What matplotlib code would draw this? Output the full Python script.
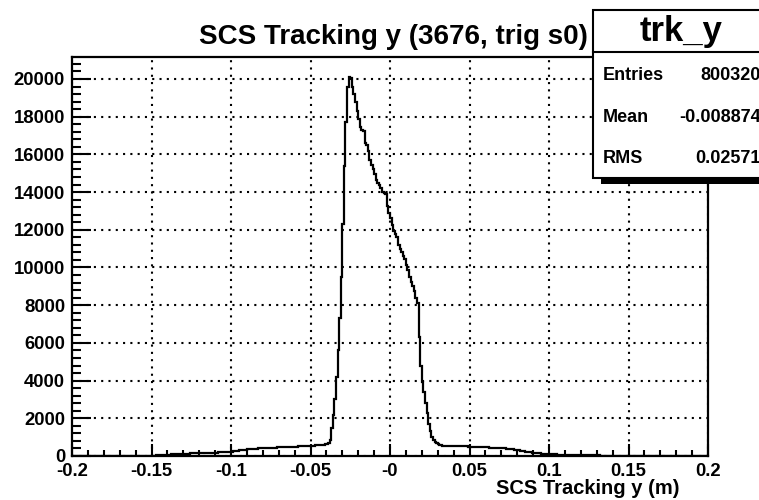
import numpy as np
import matplotlib
matplotlib.use("Agg")
import matplotlib.pyplot as plt
from matplotlib.ticker import MultipleLocator, FixedLocator, FixedFormatter
from matplotlib.patches import Rectangle
from matplotlib.lines import Line2D

# ---- data -------------------------------------------------------------
x_min, x_max, n_bins = -0.2, 0.2, 400

# bin contents, 0.001 m per bin, starting at -0.200
counts_left = [
    0, 0, 0, 0, 0, 0, 0, 0, 0, 0,
    0, 0, 0, 0, 0, 0, 0, 0, 0, 0,
    0, 0, 0, 0, 1, 0, 0, 0, 0, 1,
    0, 1, 0, 1, 1, 2, 1, 2, 3, 2,
    3, 4, 5, 4, 6, 8, 9, 11, 12, 15,
    18, 22, 25, 30, 34, 40, 46, 52, 58, 64,
    70, 76, 82, 88, 94, 100, 106, 110, 114, 118,
    122, 126, 128, 132, 135, 138, 142, 144, 146, 150,
    152, 155, 158, 160, 163, 166, 168, 171, 174, 176,
    180, 183, 186, 190, 194, 198, 203, 208, 214, 222,
    232, 244, 256, 268, 280, 292, 304, 316, 326, 336,
    346, 354, 362, 370, 378, 386, 394, 400, 406, 412,
    418, 422, 426, 430, 434, 438, 442, 446, 450, 454,
    458, 462, 466, 470, 474, 478, 482, 486, 490, 494,
    498, 502, 506, 510, 514, 518, 522, 526, 530, 536,
    540, 546, 552, 558, 566, 574, 584, 594, 606, 620,
]
counts_core = [
    640, 690, 850, 1500, 2200, 3000, 4200, 5600, 7300, 9500,
    12300, 15400, 17700, 19600, 20100, 20050, 19600, 19200, 18800, 18300,
    17900, 17450, 17300, 17250, 16600, 16500, 16200, 15700, 15450, 15200,
    14950, 14650, 14500, 14380, 14200, 14000, 13950, 13920, 13250, 12900,
    12600, 12250, 11950, 11750, 11600, 11200, 11000, 10800, 10600, 10450,
    10150, 9850, 9500, 9250, 9000, 8750, 8400, 8100, 6300, 4800,
    3900, 3400, 2800, 2300, 1700, 1300, 1000, 850, 760, 700,
]
counts_right = [
    650, 600, 570, 550, 540, 535, 530, 528, 525, 522,
    520, 518, 516, 514, 512, 510, 508, 506, 504, 500,
    496, 492, 488, 484, 480, 476, 472, 468, 464, 460,
    456, 452, 448, 444, 440, 436, 432, 428, 424, 420,
    414, 406, 398, 390, 380, 370, 358, 346, 334, 320,
    306, 292, 278, 264, 250, 236, 222, 208, 196, 184,
    172, 162, 152, 144, 136, 128, 122, 116, 110, 104,
    98, 94, 90, 86, 82, 78, 75, 72, 69, 66,
    63, 60, 58, 56, 54, 52, 50, 48, 46, 44,
    42, 40, 38, 37, 36, 34, 33, 32, 30, 29,
    28, 27, 26, 25, 24, 23, 22, 21, 20, 19,
    18, 17, 16, 15, 14, 13, 12, 12, 11, 10,
    10, 9, 8, 8, 7, 7, 6, 6, 5, 5,
    4, 4, 4, 3, 3, 3, 2, 2, 2, 2,
    2, 1, 1, 1, 1, 1, 1, 0, 1, 0,
    0, 1, 0, 0, 0, 1, 0, 0, 0, 0,
    0, 0, 0, 0, 0, 0, 0, 0, 0, 0,
]

x_ticks = [-0.2, -0.15, -0.1, -0.05, 0.0, 0.05, 0.1, 0.15, 0.2]
x_tick_labels = ["-0.2", "-0.15", "-0.1", "-0.05", "-0", "0.05", "0.1", "0.15", "0.2"]
y_ticks = [0, 2000, 4000, 6000, 8000, 10000, 12000, 14000, 16000, 18000, 20000]
y_tick_labels = [str(v) for v in y_ticks]

title = "SCS Tracking y (3676, trig s0)"
x_label = "SCS Tracking y (m)"
stats_name = "trk_y"
stats_rows = [("Entries", "800320"), ("Mean", "-0.008874"), ("RMS", "0.02571")]

# ---- figure -----------------------------------------------------------
W, H = 759, 500
plt.rcParams["font.family"] = ["Liberation Sans", "DejaVu Sans"]
plt.rcParams["font.weight"] = "bold"

fig = plt.figure(figsize=(W / 100, H / 100), dpi=100)
fig.patch.set_facecolor("white")


def fx(px):
    return px / W


def fy(py):
    return 1 - py / H


ax_l, ax_r, ax_t, ax_b = 72, 708, 57, 456
ax = fig.add_axes([fx(ax_l), fy(ax_b), (ax_r - ax_l) / W, (ax_b - ax_t) / H])

counts = np.array(counts_left + counts_core + counts_right, dtype=float)
edges = np.linspace(x_min, x_max, n_bins + 1)
ax.stairs(counts, edges, color="black", lw=1.6, zorder=3)

ax.set_xlim(x_min, x_max)
ax.set_ylim(0, counts.max() * 1.053)

ax.xaxis.set_major_locator(FixedLocator(x_ticks))
ax.xaxis.set_major_formatter(FixedFormatter(x_tick_labels))
ax.xaxis.set_minor_locator(MultipleLocator(0.01))
ax.yaxis.set_major_locator(FixedLocator(y_ticks))
ax.yaxis.set_major_formatter(FixedFormatter(y_tick_labels))
ax.yaxis.set_minor_locator(MultipleLocator(400))

ax.tick_params(axis="both", which="both", direction="in", width=1.5,
               top=False, right=False, labelsize=13.3)
ax.tick_params(axis="x", which="major", length=8.6, pad=5)
ax.tick_params(axis="x", which="minor", length=4.3)
ax.tick_params(axis="y", which="major", length=13.7, pad=5)
ax.tick_params(axis="y", which="minor", length=6.8)
for lab in ax.get_xticklabels() + ax.get_yticklabels():
    lab.set_fontweight("bold")

ax.grid(which="major", color="black", linestyle=(0, (1, 2.5)), lw=1.5, zorder=1)
ax.set_axisbelow(True)
for sp in ax.spines.values():
    sp.set_linewidth(1.6)

# title and axis label
fig.text(fx(588), fy(44), title, ha="right", va="baseline",
         fontsize=20, fontweight="bold")
fig.text(fx(680), fy(494), x_label, ha="right", va="baseline",
         fontsize=14.5, fontweight="bold")

# ---- statistics box ---------------------------------------------------
bx0, bx1, by0, by1 = 593, 772, 10, 178
shadow = Rectangle((fx(bx0 + 8), fy(by1 + 6)), (bx1 - bx0) / W, 6 / H,
                   transform=fig.transFigure, facecolor="black",
                   edgecolor="none", zorder=5)
box = Rectangle((fx(bx0), fy(by1)), (bx1 - bx0) / W, (by1 - by0) / H,
                transform=fig.transFigure, facecolor="white",
                edgecolor="black", lw=1.5, zorder=6)
fig.add_artist(shadow)
fig.add_artist(box)
fig.add_artist(Line2D([fx(bx0), fx(bx1)], [fy(52), fy(52)],
                      transform=fig.transFigure, color="black", lw=1.5, zorder=7))
fig.text(fx(681), fy(31), stats_name, ha="center", va="center",
         fontsize=25, fontweight="bold", zorder=8)
for (name, val), yc in zip(stats_rows, [76, 118, 158]):
    fig.text(fx(603), fy(yc), name, ha="left", va="center",
             fontsize=13, fontweight="bold", zorder=8)
    fig.text(fx(761), fy(yc), val, ha="right", va="center",
             fontsize=13, fontweight="bold", zorder=8)

fig.savefig("out.png", dpi=100)
